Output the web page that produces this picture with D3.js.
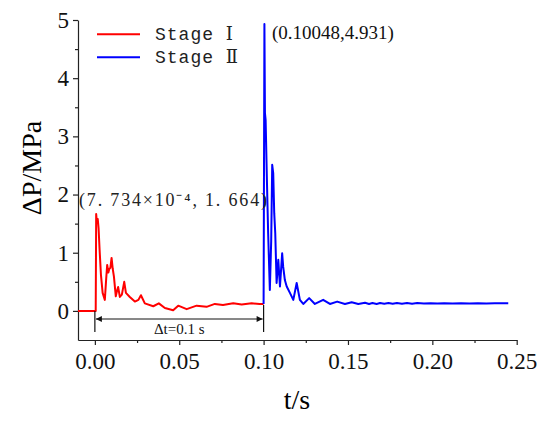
<!DOCTYPE html>
<html>
<head>
<meta charset="utf-8">
<script src="https://d3js.org/d3.v7.min.js"></script>
<style>
body { margin: 0; background: #fff; }
</style>
</head>
<body>
<script>
// stage I pressure trace [t (s), dP (MPa)]
var stage1 = [
    [-0.01, 0], [0.0, 0], [0.0005, 0], [0.00077, 1.664], [0.0012, 1.52], [0.0017, 1.58],
    [0.0022, 1.42], [0.0028, 1.05], [0.0036, 0.62], [0.0046, 0.31], [0.0059, 0.19],
    [0.0067, 0.55], [0.0073, 0.79], [0.0080, 0.66], [0.0085, 0.72], [0.0092, 0.74],
    [0.0099, 0.91], [0.0106, 0.72], [0.0113, 0.59], [0.0124, 0.25], [0.0131, 0.34],
    [0.0138, 0.41], [0.0148, 0.24], [0.0160, 0.28], [0.0174, 0.50], [0.0184, 0.31],
    [0.0207, 0.24], [0.0237, 0.16], [0.0258, 0.19], [0.0273, 0.27], [0.0296, 0.13],
    [0.0346, 0.08], [0.0379, 0.13], [0.0415, 0.05], [0.0464, 0.01], [0.0494, 0.09],
    [0.0544, 0.03], [0.0603, 0.09], [0.0662, 0.07], [0.0711, 0.12], [0.0759, 0.10],
    [0.0820, 0.13], [0.0870, 0.11], [0.0929, 0.13], [0.0976, 0.12], [0.1000, 0.12]
];

// stage II pressure trace
var stage2 = [
    [0.1000, 0.12], [0.10048, 4.931], [0.1008, 3.40], [0.1012, 3.28], [0.1020, 2.20],
    [0.1027, 1.33], [0.1037, 0.36], [0.1045, 1.20], [0.1051, 2.51], [0.1057, 2.37],
    [0.1063, 1.68], [0.1069, 1.34], [0.1077, 0.48], [0.1087, 0.88], [0.1097, 0.42],
    [0.1110, 0.99], [0.1116, 0.76], [0.1126, 0.53], [0.1137, 0.42], [0.1156, 0.31],
    [0.1176, 0.19], [0.1196, 0.48], [0.1215, 0.19], [0.1235, 0.12], [0.1270, 0.22],
    [0.1304, 0.12], [0.1353, 0.19], [0.1393, 0.12], [0.1436, 0.16], [0.1482, 0.12],
    [0.1522, 0.15], [0.1561, 0.12], [0.1601, 0.14], [0.1625, 0.12], [0.1645, 0.135],
    [0.1670, 0.12], [0.1690, 0.135], [0.1715, 0.125], [0.1740, 0.135], [0.1765, 0.125],
    [0.1790, 0.135], [0.1820, 0.125], [0.1850, 0.135], [0.1880, 0.125], [0.1910, 0.135],
    [0.1950, 0.127], [0.1990, 0.133], [0.2030, 0.127], [0.2070, 0.133], [0.2120, 0.128],
    [0.2170, 0.132], [0.2220, 0.128], [0.2270, 0.132], [0.2320, 0.129], [0.2370, 0.131],
    [0.2410, 0.13], [0.2450, 0.13]
];

var xTicks = [0, 0.05, 0.10, 0.15, 0.20, 0.25];
var xMinor = [0.025, 0.075, 0.125, 0.175, 0.225];
var yTicks = [0, 1, 2, 3, 4, 5];
var yMinor = [0.5, 1.5, 2.5, 3.5, 4.5];

var seriesNames = ['Stage \u2160', 'Stage \u2161'];
var seriesColors = ['#ff0000', '#0000ff'];

var serif = '"Liberation Serif", "Times New Roman", serif';
var width = 550, height = 421;

var svg = d3.select('body').append('svg')
    .attr('width', width)
    .attr('height', height);

var x = d3.scaleLinear().domain([-0.01, 0.25]).range([78, 516.7]);
var y = d3.scaleLinear().domain([-0.5, 5]).range([340, 20]);

// axes
var xAxis = svg.append('g')
    .attr('transform', 'translate(0,340)')
    .call(d3.axisBottom(x).tickValues(xTicks).tickSize(5).tickSizeOuter(0)
        .tickFormat(d3.format('.2f')));
svg.append('g')
    .attr('transform', 'translate(0,340)')
    .call(d3.axisBottom(x).tickValues(xMinor).tickSize(3).tickFormat(''))
    .select('.domain').remove();

var yAxis = svg.append('g')
    .attr('transform', 'translate(78,0)')
    .call(d3.axisLeft(y).tickValues(yTicks).tickSize(5).tickSizeOuter(0)
        .tickFormat(d3.format('d')));
svg.append('g')
    .attr('transform', 'translate(78,0)')
    .call(d3.axisLeft(y).tickValues(yMinor).tickSize(3).tickFormat(''))
    .select('.domain').remove();

svg.selectAll('.domain, .tick line')
    .attr('stroke', '#222')
    .attr('stroke-width', 1.2);

xAxis.selectAll('text')
    .style('font-family', serif)
    .style('font-size', '23px')
    .attr('fill', '#111')
    .attr('y', 12)
    .attr('dy', '0.75em');
yAxis.selectAll('text')
    .style('font-family', serif)
    .style('font-size', '23px')
    .attr('fill', '#111')
    .attr('x', -9);

// axis titles
svg.append('text')
    .attr('x', 297).attr('y', 409)
    .attr('text-anchor', 'middle')
    .style('font-family', serif)
    .style('font-size', '28px')
    .text('t/s');

svg.append('text')
    .attr('transform', 'translate(41,168) rotate(-90)')
    .attr('text-anchor', 'middle')
    .style('font-family', serif)
    .style('font-size', '28px')
    .text('\u0394P/MPa');

// curves
var line = d3.line()
    .x(function(d) { return x(d[0]); })
    .y(function(d) { return y(d[1]); });

[stage1, stage2].forEach(function(s, i) {
    svg.append('path')
        .datum(s)
        .attr('fill', 'none')
        .attr('stroke', seriesColors[i])
        .attr('stroke-width', 2)
        .attr('stroke-linejoin', 'round')
        .attr('d', line);
});

// legend
var legend = svg.append('g');
seriesNames.forEach(function(name, i) {
    var ly = 34.3 + i * 23;
    legend.append('line')
        .attr('x1', 97).attr('x2', 140)
        .attr('y1', ly).attr('y2', ly)
        .attr('stroke', seriesColors[i])
        .attr('stroke-width', 2);
    legend.append('text')
        .attr('x', 155).attr('y', ly + 6)
        .style('font-family', '"Liberation Mono", "DejaVu Serif", serif')
        .style('font-size', '18px')
        .style('letter-spacing', '1px')
        .attr('fill', '#222')
        .text(name);
});

// peak annotations
svg.append('text')
    .attr('x', 79).attr('y', 206)
    .style('font-family', serif)
    .style('font-size', '18px')
    .attr('fill', '#222')
    .attr('textLength', 188)
    .attr('lengthAdjust', 'spacing')
    .text('(7. 734\u00d710\u207b\u2074, 1. 664)');

svg.append('text')
    .attr('x', 272).attr('y', 39)
    .style('font-family', serif)
    .style('font-size', '19px')
    .attr('fill', '#111')
    .text('(' + stage2[1][0] + ',' + stage2[1][1] + ')');

// delta t marker between stage starts
var t0 = x(0), t1 = x(0.1), ay = 319;
svg.append('defs').append('marker')
    .attr('id', 'arr')
    .attr('viewBox', '0 0 10 10')
    .attr('refX', 10).attr('refY', 5)
    .attr('markerWidth', 9).attr('markerHeight', 6)
    .attr('markerUnits', 'userSpaceOnUse')
    .attr('orient', 'auto-start-reverse')
    .append('path')
    .attr('d', 'M0,0L10,5L0,10z')
    .attr('fill', '#111');

svg.append('line')
    .attr('x1', t0 + 1).attr('x2', t1 - 1)
    .attr('y1', ay).attr('y2', ay)
    .attr('stroke', '#111').attr('stroke-width', 1)
    .attr('marker-start', 'url(#arr)')
    .attr('marker-end', 'url(#arr)');
svg.append('line')
    .attr('x1', t0).attr('x2', t0)
    .attr('y1', 311).attr('y2', 332)
    .attr('stroke', '#111').attr('stroke-width', 1.2);
svg.append('line')
    .attr('x1', t1).attr('x2', t1)
    .attr('y1', 305).attr('y2', 332)
    .attr('stroke', '#111').attr('stroke-width', 1.2);

svg.append('text')
    .attr('x', (t0 + t1) / 2).attr('y', 334)
    .attr('text-anchor', 'middle')
    .style('font-family', serif)
    .style('font-size', '15px')
    .attr('fill', '#111')
    .text('\u0394t=0.1 s');
</script>
</body>
</html>
